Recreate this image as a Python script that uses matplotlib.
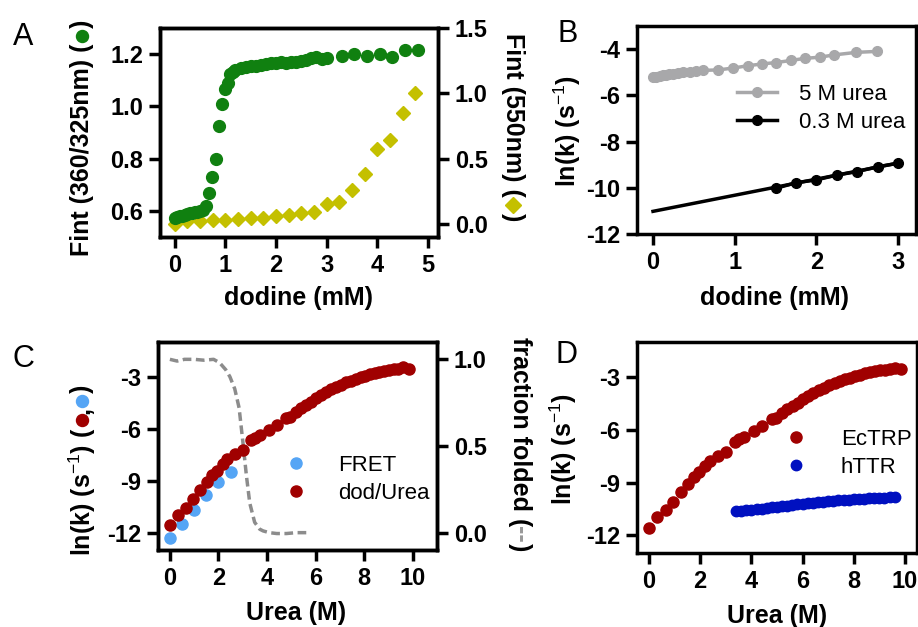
import numpy as np
import matplotlib
matplotlib.use('Agg')
import matplotlib.pyplot as plt
from matplotlib.lines import Line2D

plt.rcParams['font.family'] = ['Liberation Sans', 'DejaVu Sans']
plt.rcParams['mathtext.fontset'] = 'custom'
plt.rcParams['mathtext.rm'] = 'Liberation Sans'
plt.rcParams['mathtext.bf'] = 'Liberation Sans:bold'
plt.rcParams['axes.unicode_minus'] = False

# ---- data ----
# A: intrinsic fluorescence ratio (green) and 550nm (yellow) vs dodine
a_green_x = [0, 0.05, 0.1, 0.15, 0.2, 0.25, 0.3, 0.35, 0.4, 0.45, 0.5, 0.55,
             0.62, 0.68, 0.74, 0.81, 0.87, 0.94, 1.0, 1.05, 1.1, 1.15, 1.2, 1.3,
             1.4, 1.5, 1.6, 1.7, 1.8, 1.9, 2.0, 2.1, 2.2, 2.3, 2.4, 2.5, 2.6,
             2.7, 2.8, 2.9, 3.0, 3.3, 3.55, 3.8, 4.05, 4.3, 4.55, 4.8]
a_green_y = [0.573, 0.578, 0.582, 0.580, 0.585, 0.588, 0.590, 0.592, 0.594,
             0.597, 0.598, 0.605, 0.617, 0.670, 0.728, 0.798, 0.926, 1.010,
             1.066, 1.090, 1.125, 1.130, 1.138, 1.145, 1.150, 1.153, 1.156,
             1.158, 1.162, 1.165, 1.166, 1.168, 1.167, 1.170, 1.171, 1.172,
             1.178, 1.185, 1.189, 1.183, 1.185, 1.194, 1.200, 1.194, 1.200,
             1.190, 1.217, 1.214]
a_yel_x = [0, 0.25, 0.5, 0.75, 1.0, 1.25, 1.5, 1.75, 2.0, 2.25, 2.5, 2.75,
           3.0, 3.25, 3.5, 3.75, 4.0, 4.25, 4.5, 4.75]
a_yel_y = [0.0, 0.02, 0.02, 0.03, 0.03, 0.04, 0.045, 0.045, 0.06, 0.065,
           0.08, 0.095, 0.15, 0.17, 0.26, 0.38, 0.57, 0.64, 0.85, 1.0]

# B: ln(k) vs dodine
b_5m_x = [0, 0.04, 0.08, 0.12, 0.16, 0.2, 0.25, 0.3, 0.37, 0.45, 0.53, 0.61,
          0.8, 0.98, 1.16, 1.34, 1.51, 1.69, 1.86, 2.04, 2.22, 2.49, 2.74]
b_5m_y = [-5.21, -5.19, -5.16, -5.13, -5.10, -5.08, -5.06, -5.03, -5.00,
          -4.98, -4.95, -4.92, -4.90, -4.82, -4.72, -4.64, -4.58, -4.49,
          -4.40, -4.35, -4.25, -4.14, -4.10]
b_03m_x = [1.5, 1.75, 2.0, 2.25, 2.5, 2.75, 3.0]
b_03m_y = [-10.03, -9.78, -9.66, -9.45, -9.30, -9.09, -8.94]
b_fit_x = [0, 3.0]
b_fit_y = [-11.02, -8.93]

# C/D: ln(k) vs urea
ec_x = [0, 0.33, 0.65, 0.94, 1.24, 1.53, 1.75, 1.96, 2.18, 2.37, 2.7, 3.02,
        3.35, 3.52, 3.7, 4.09, 4.43, 4.79, 4.95, 5.18, 5.4, 5.61, 5.83, 6.02,
        6.22, 6.41, 6.65, 6.83, 7.04, 7.26, 7.46, 7.65, 7.85, 8.04, 8.24,
        8.44, 8.63, 8.83, 9.02, 9.22, 9.41, 9.61, 9.84]
ec_y = [-11.57, -10.96, -10.58, -10.08, -9.55, -9.08, -8.70, -8.42, -8.04,
        -7.75, -7.47, -7.25, -6.68, -6.53, -6.38, -6.06, -5.77, -5.40, -5.30,
        -5.06, -4.83, -4.64, -4.45, -4.23, -4.08, -3.89, -3.74, -3.60, -3.47,
        -3.32, -3.23, -3.13, -3.04, -2.94, -2.85, -2.79, -2.72, -2.66, -2.60,
        -2.57, -2.53, -2.47, -2.55]
fret_x = [0, 0.5, 1.0, 1.5, 2.0, 2.5]
fret_y = [-12.31, -11.52, -10.68, -9.83, -9.10, -8.48]
fold_x = [0, 0.3, 0.6, 1.0, 1.4, 1.8, 2.05, 2.3, 2.47, 2.67, 2.85, 3.0, 3.15,
          3.29, 3.49, 3.7, 3.84, 4.1, 4.4, 4.8, 5.2, 5.75]
fold_y = [1.0, 0.99, 1.0, 1.0, 0.995, 1.0, 0.98, 0.94, 0.9, 0.83, 0.72, 0.53,
          0.33, 0.17, 0.06, 0.02, 0.01, 0.0, -0.005, -0.005, 0.0, 0.0]
httr_x = [3.4, 3.6, 3.8, 4.0, 4.2, 4.4, 4.6, 4.8, 5.0, 5.2, 5.4, 5.6, 5.8,
          6.0, 6.2, 6.4, 6.6, 6.8, 7.0, 7.2, 7.4, 7.6, 7.8, 8.0, 8.2, 8.4,
          8.6, 8.8, 9.0, 9.2, 9.4, 9.6]
httr_y = [-10.62, -10.59, -10.56, -10.53, -10.50, -10.47, -10.44, -10.41,
          -10.37, -10.33, -10.30, -10.27, -10.24, -10.21, -10.18, -10.15,
          -10.12, -10.09, -10.07, -10.04, -10.01, -9.99, -9.97, -9.95, -9.93,
          -9.91, -9.89, -9.88, -9.86, -9.85, -9.84, -9.82]

GREEN = '#108010'
YELLOW = '#c4c000'
GRAY = '#a8a8aa'
RED = '#a00000'
LBLUE = '#55a5f5'
DBLUE = '#0010c0'

W, H = 918, 627
fig = plt.figure(figsize=(W / 100, H / 100), dpi=100)

TICK_FS = 17
LAB_FS = 18
LW = 2.5


def add_ax(l, t, r, b):
    return fig.add_axes([l / W, 1 - b / H, (r - l) / W, (b - t) / H])


def style(ax, right=False):
    for s in ax.spines.values():
        s.set_linewidth(LW)
    ax.tick_params(direction='out', length=8, width=LW, labelsize=TICK_FS, pad=4,
                   right=right, labelright=right, left=not right, labelleft=not right,
                   top=False)
    for t in ax.get_xticklabels() + ax.get_yticklabels():
        t.set_fontweight('bold')


def ftext(px, py, s, **kw):
    return fig.text(px / W, 1 - py / H, s, **kw)


def stacked_label(x_px, start_px, parts, up=True):
    r = fig.canvas.get_renderer()
    pos = start_px
    sgn = -1 if up else 1
    for p in parts:
        if p[0] == 'text':
            t = ftext(x_px, pos, p[1], rotation=90 if up else 270, ha='center',
                      va='bottom' if up else 'top', fontsize=LAB_FS,
                      fontweight='bold', color=p[2] if len(p) > 2 else 'black')
            bb = t.get_window_extent(r)
            pos += sgn * bb.height
        elif p[0] == 'gap':
            pos += sgn * p[1]
        else:
            _, mk, col, size = p
            c = pos + sgn * size / 2
            fig.add_artist(Line2D([x_px / W], [1 - c / H], transform=fig.transFigure,
                                  marker=mk, color=col, ms=size / 1.389, ls='none'))
            pos += sgn * size


# ---- A ----
axA = add_ax(160, 28, 438, 237)
axA.plot(a_green_x, a_green_y, 'o', color=GREEN, ms=8.5, zorder=3)
axA.set_xlim(-0.29, 5.2)
axA.set_ylim(0.5, 1.3)
axA.set_xticks([0, 1, 2, 3, 4, 5])
axA.set_yticks([0.6, 0.8, 1.0, 1.2])
axA.yaxis.set_major_formatter(plt.FormatStrFormatter('%.1f'))
axA2 = axA.twinx()
axA2.plot(a_yel_x, a_yel_y, 'D', color=YELLOW, ms=7.5, zorder=2)
axA2.set_ylim(-0.1, 1.5)
axA2.set_yticks([0, 0.5, 1.0, 1.5])
axA2.yaxis.set_major_formatter(plt.FormatStrFormatter('%.1f'))
axA.set_zorder(axA2.get_zorder() + 1)
axA.patch.set_visible(False)
style(axA)
style(axA2, right=True)
axA2.tick_params(bottom=False, labelbottom=False)

# ---- B ----
axB = add_ax(637, 26, 916, 234)
axB.plot(b_5m_x, b_5m_y, '-o', color=GRAY, lw=2.5, ms=7, label='5 M urea')
axB.plot(b_fit_x, b_fit_y, '-', color='black', lw=2.5)
axB.plot(b_03m_x, b_03m_y, '-o', color='black', lw=2.5, ms=7, label='0.3 M urea')
axB.set_xlim(-0.196, 3.22)
axB.set_ylim(-12, -3)
axB.set_xticks([0, 1, 2, 3])
axB.set_yticks([-4, -6, -8, -10, -12])
style(axB)
axB.legend(loc='upper left', bbox_to_anchor=(737 / W, 1 - 84 / H),
           bbox_transform=fig.transFigure, frameon=False, fontsize=16,
           handlelength=1.8, handletextpad=1.0, borderpad=0, borderaxespad=0,
           labelspacing=0.3)

# ---- C ----
axC = add_ax(158, 342, 437, 550)
axC.plot(fret_x, fret_y, 'o', color=LBLUE, ms=8, label='FRET', zorder=3)
axC.plot(ec_x, ec_y, 'o', color=RED, ms=8, label='dod/Urea', zorder=3)
axC.set_xlim(-0.49, 11)
axC.set_ylim(-13, -1)
axC.set_xticks([0, 2, 4, 6, 8, 10])
axC.set_yticks([-3, -6, -9, -12])
axC2 = axC.twinx()
axC2.plot(fold_x, fold_y, color='#8c8c8c', lw=2.5, ls=(0, (2.5, 1.3)))
axC2.set_ylim(-0.1, 1.1)
axC2.set_yticks([0, 0.5, 1.0])
axC2.yaxis.set_major_formatter(plt.FormatStrFormatter('%.1f'))
axC.set_zorder(axC2.get_zorder() + 1)
axC.patch.set_visible(False)
style(axC)
style(axC2, right=True)
axC2.tick_params(bottom=False, labelbottom=False)
axC.legend(loc='upper left', bbox_to_anchor=(274 / W, 1 - 455 / H),
           bbox_transform=fig.transFigure, frameon=False, fontsize=16,
           handlelength=2.0, handletextpad=0.9, borderpad=0, borderaxespad=0,
           labelspacing=0.3)

# ---- D ----
axD = add_ax(637, 342, 917, 553)
axD.plot(ec_x, ec_y, 'o', color=RED, ms=8, label='EcTRP', zorder=3)
axD.plot(httr_x, httr_y, 'o', color=DBLUE, ms=7.5, label='hTTR', zorder=3)
axD.set_xlim(-0.47, 10.47)
axD.set_ylim(-13, -1)
axD.set_xticks([0, 2, 4, 6, 8, 10])
axD.set_yticks([-3, -6, -9, -12])
style(axD)
axD.legend(loc='upper left', bbox_to_anchor=(774 / W, 1 - 429 / H),
           bbox_transform=fig.transFigure, frameon=False, fontsize=16,
           handlelength=2.0, handletextpad=1.0, borderpad=0, borderaxespad=0,
           labelspacing=0.3)

# ---- axis labels ----
ftext(298, 305, 'dodine (mM)', ha='center', va='baseline', fontsize=LAB_FS, fontweight='bold')
ftext(775, 305, 'dodine (mM)', ha='center', va='baseline', fontsize=LAB_FS, fontweight='bold')
ftext(296, 620, 'Urea (M)', ha='center', va='baseline', fontsize=LAB_FS, fontweight='bold')
ftext(777, 623, 'Urea (M)', ha='center', va='baseline', fontsize=LAB_FS, fontweight='bold')

ksup = r'ln(k) (s$^{\mathrm{-1}}$)'
stacked_label(82, 256, [('text', 'Fint (360/325nm) ('), ('gap', 2),
                        ('mark', 'o', GREEN, 12), ('gap', 2), ('text', ')')])
stacked_label(513, 33, [('text', 'Fint (550nm) ('), ('gap', 2),
                        ('mark', 'D', YELLOW, 12), ('gap', 2), ('text', ')')], up=False)
ftext(567, 131, ksup, rotation=90, ha='center', va='center', fontsize=LAB_FS, fontweight='bold')
stacked_label(82, 556, [('text', ksup + ' ('), ('gap', 2),
                        ('mark', 'o', RED, 12), ('text', ','),
                        ('mark', 'o', LBLUE, 12), ('gap', 2), ('text', ')')])
stacked_label(520, 337, [('text', 'fraction folded ('),
                         ('text', '--', '#999999'), ('text', ')')], up=False)
ftext(563, 449, ksup, rotation=90, ha='center', va='center', fontsize=LAB_FS, fontweight='bold')

# ---- panel letters ----
for px, py, s in [(13, 45, 'A'), (557, 42, 'B'), (13, 367, 'C'), (555, 363, 'D')]:
    ftext(px, py, s, ha='left', va='baseline', fontsize=22)

fig.savefig('out.png', dpi=100)
